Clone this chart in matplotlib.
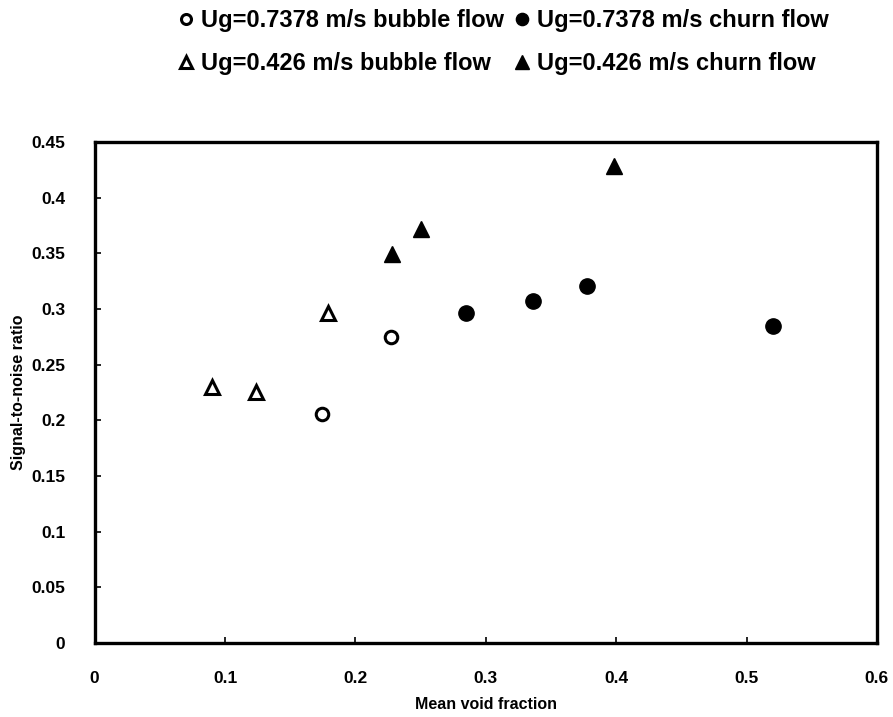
import matplotlib.pyplot as plt

# Данные
bubble_fast_x = [0.174, 0.227]
bubble_fast_y = [0.206, 0.275]
churn_fast_x = [0.285, 0.336, 0.378, 0.520]
churn_fast_y = [0.2965, 0.307, 0.321, 0.285]
bubble_slow_x = [0.090, 0.124, 0.179]
bubble_slow_y = [0.230, 0.2255, 0.2965]
churn_slow_x = [0.228, 0.250, 0.398]
churn_slow_y = [0.349, 0.372, 0.428]

x_ticks = [0, 0.1, 0.2, 0.3, 0.4, 0.5, 0.6]
y_ticks = [0, 0.05, 0.1, 0.15, 0.2, 0.25, 0.3, 0.35, 0.4, 0.45]

plt.rcParams["font.family"] = ["Liberation Sans", "DejaVu Sans"]
plt.rcParams["font.weight"] = "bold"

fig = plt.figure(figsize=(8.93, 7.17), dpi=100)
ax = fig.add_axes([0.106, 0.103, 0.876, 0.699])

h1, = ax.plot(bubble_fast_x, bubble_fast_y, "o", ms=9, mfc="white", mec="black", mew=2.2, ls="none",
              label="Ug=0.7378 m/s bubble flow")
h2, = ax.plot(bubble_slow_x, bubble_slow_y, "^", ms=10, mfc="white", mec="black", mew=2.2, ls="none",
              label="Ug=0.426 m/s bubble flow")
h3, = ax.plot(churn_fast_x, churn_fast_y, "o", ms=11, color="black", ls="none",
              label="Ug=0.7378 m/s churn flow")
h4, = ax.plot(churn_slow_x, churn_slow_y, "^", ms=12, color="black", ls="none",
              label="Ug=0.426 m/s churn flow")

ax.set_xlim(0, 0.6)
ax.set_ylim(0, 0.45)
ax.set_xticks(x_ticks)
ax.set_xticklabels([f"{t:g}" for t in x_ticks])
ax.set_yticks(y_ticks)
ax.set_yticklabels([f"{t:g}" for t in y_ticks])
ax.tick_params(direction="in", length=4, width=1.2, labelsize=12.5)
ax.tick_params(axis="x", pad=20)
ax.tick_params(axis="y", pad=21)
for s in ax.spines.values():
    s.set_linewidth(2.4)

ax.set_xlabel("Mean void fraction", fontsize=11.5, fontweight="bold", labelpad=8)
ax.set_ylabel("Signal-to-noise ratio", fontsize=11.5, fontweight="bold", labelpad=4)

fig.legend(handles=[h1, h2, h3, h4], ncol=2, frameon=False, loc="upper left",
           bbox_to_anchor=(0.176, 1.017), prop={"size": 17, "weight": "bold"},
           handlelength=0.6, handletextpad=0.35, columnspacing=0.45, labelspacing=0.85,
           markerscale=0.8)

plt.savefig("out.png", dpi=100)
plt.close()
